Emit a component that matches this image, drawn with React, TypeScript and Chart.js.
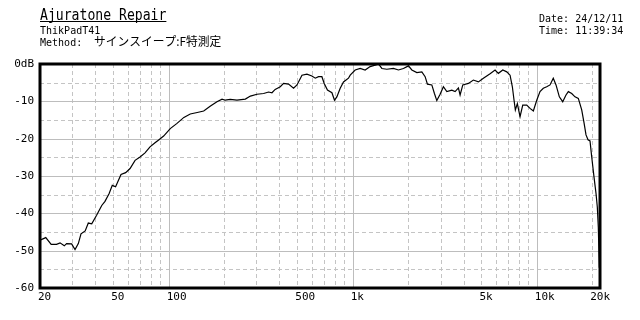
import React, { useEffect, useRef } from "react";
import { Chart, registerables } from "chart.js";

Chart.register(...registerables);

const freqs = [
  20, 21.5, 23.0, 24.6, 25.7, 27.1, 27.9, 29.7, 31.0, 32.3, 33.4, 35.2, 36.6, 38.2, 40.6, 43.3, 45.1, 47.5, 49.4, 51.5,
  55.1, 58.4, 61.7, 65.7, 69.9, 74.4, 79.2, 84.3, 87.9, 93.9, 102, 111, 121, 131, 143, 155, 168, 183, 195, 203,
  216, 235, 261, 278, 302, 328, 349, 364, 379, 404, 421, 448, 477, 498, 530, 564, 600, 626, 652, 680,
  700, 729, 771, 796, 820, 855, 891, 948, 969, 1031, 1098, 1168, 1243, 1324, 1380, 1440, 1532, 1664, 1772, 1886,
  2008, 2095, 2230, 2374, 2474, 2546, 2690, 2779, 2863, 2984, 3109, 3245, 3454, 3600, 3751, 3831, 3963, 4250, 4524, 4816,
  5127, 5575, 5934, 6184, 6535, 6868, 7158, 7367, 7524, 7647, 7841, 8110, 8389, 8818, 9190, 9578, 9994, 10410, 10850, 11320,
  11800, 12290, 12720, 13260, 13830, 14410, 14840, 15480, 16130, 16810, 17540, 18050, 18510, 18980, 19460, 19880, 20460, 20980, 21320, 21590,
  21860,
];
const levels = [
  -47.2, -46.5, -48.3, -48.3, -47.9, -48.7, -48.1, -48.2, -49.7, -48.1, -45.5, -44.7, -42.6, -42.8, -40.5, -37.9, -36.8, -34.7, -32.5, -32.9,
  -29.6, -29.1, -28.0, -25.8, -24.9, -23.8, -22.2, -21.1, -20.4, -19.3, -17.3, -15.9, -14.3, -13.4, -13.0, -12.6, -11.3, -10.1, -9.4, -9.7,
  -9.5, -9.7, -9.4, -8.6, -8.1, -7.9, -7.5, -7.7, -6.8, -6.1, -5.2, -5.4, -6.5, -5.6, -3.0, -2.7, -3.2, -3.8, -3.4, -3.4,
  -5.2, -7.0, -7.7, -9.7, -8.8, -6.5, -4.8, -3.8, -3.0, -1.6, -1.2, -1.6, -0.7, -0.3, 0, -1.2, -1.4, -1.2, -1.6, -1.2,
  -0.5, -1.6, -2.3, -2.1, -3.4, -5.4, -5.6, -7.9, -9.8, -8.1, -6.1, -7.4, -7.0, -7.4, -6.4, -8.3, -5.6, -5.2, -4.3, -4.8,
  -3.8, -2.6, -1.6, -2.5, -1.6, -2.1, -3.0, -6.1, -9.7, -12.3, -10.6, -14.1, -11.0, -11.0, -11.9, -12.6, -9.7, -7.4, -6.5, -6.1,
  -5.6, -3.8, -5.6, -8.8, -10.1, -8.3, -7.4, -7.9, -8.8, -9.2, -12.3, -15.7, -19.0, -20.3, -20.6, -24.9, -30.3, -34.7, -38.3, -43.7,
  -54.6,
];

const xTickValues = [20, 50, 100, 500, 1000, 5000, 10000, 20000];
const xTickLabels = ["20", "50", "100", "500", "1k", "5k", "10k", "20k"];
const yTickValues = [0, -10, -20, -30, -40, -50, -60];
const yTickLabels = ["0dB", "-10", "-20", "-30", "-40", "-50", "-60"];

const xGridMajor = [100, 1000, 10000];
const xGridMinor = [
  30, 40, 50, 60, 70, 80, 90, 200, 300, 400, 500, 600, 700, 800, 900,
  2000, 3000, 4000, 5000, 6000, 7000, 8000, 9000, 20000,
];
const yGridMajor = [-10, -20, -30, -40, -50];
const yGridMinor = [-5, -15, -25, -35, -45, -55];

const titleText = "Ajuratone Repair";
const deviceText = "ThikPadT41";
const methodLabel = "Method:";
const methodText = "サインスイープ:F特測定";
const dateText = "Date: 24/12/11";
const timeText = "Time: 11:39:34";

const MONO = "'DejaVu Sans Mono', 'Liberation Mono', monospace";

function drawScaled(ctx: CanvasRenderingContext2D, text: string, x: number, y: number, font: string, sx: number) {
  ctx.save();
  ctx.font = font;
  ctx.fillStyle = "#000";
  ctx.textBaseline = "alphabetic";
  ctx.textAlign = "left";
  ctx.translate(x, y);
  ctx.scale(sx, 1);
  ctx.fillText(text, 0, 0);
  const w = ctx.measureText(text).width * sx;
  ctx.restore();
  return w;
}

const gridPlugin = {
  id: "customGrid",
  beforeDatasetsDraw(chart: any) {
    const { ctx, chartArea } = chart;
    const xs = chart.scales.x;
    const ys = chart.scales.y;
    ctx.save();
    ctx.lineWidth = 1;
    ctx.strokeStyle = "#c4c4c4";
    ctx.setLineDash([4, 3]);
    for (const v of xGridMinor) {
      const p = Math.round(xs.getPixelForValue(v)) + 0.5;
      ctx.beginPath();
      ctx.moveTo(p, chartArea.top);
      ctx.lineTo(p, chartArea.bottom);
      ctx.stroke();
    }
    for (const v of yGridMinor) {
      const p = Math.round(ys.getPixelForValue(v)) + 0.5;
      ctx.beginPath();
      ctx.moveTo(chartArea.left, p);
      ctx.lineTo(chartArea.right, p);
      ctx.stroke();
    }
    ctx.setLineDash([]);
    ctx.strokeStyle = "#bdbdbd";
    for (const v of xGridMajor) {
      const p = Math.round(xs.getPixelForValue(v)) + 0.5;
      ctx.beginPath();
      ctx.moveTo(p, chartArea.top);
      ctx.lineTo(p, chartArea.bottom);
      ctx.stroke();
    }
    for (const v of yGridMajor) {
      const p = Math.round(ys.getPixelForValue(v)) + 0.5;
      ctx.beginPath();
      ctx.moveTo(chartArea.left, p);
      ctx.lineTo(chartArea.right, p);
      ctx.stroke();
    }
    ctx.restore();
  },
  afterDatasetsDraw(chart: any) {
    const { ctx, chartArea } = chart;
    ctx.save();
    ctx.strokeStyle = "#000";
    ctx.lineWidth = 3;
    ctx.strokeRect(chartArea.left, chartArea.top, chartArea.right - chartArea.left, chartArea.bottom - chartArea.top);
    ctx.restore();
  },
  afterDraw(chart: any) {
    const { ctx } = chart;
    const tw = drawScaled(ctx, titleText, 40, 19.5, `16px ${MONO}`, 0.82);
    ctx.save();
    ctx.strokeStyle = "#000";
    ctx.lineWidth = 1;
    ctx.beginPath();
    ctx.moveTo(40, 21.5);
    ctx.lineTo(40 + tw, 21.5);
    ctx.stroke();
    ctx.restore();
    drawScaled(ctx, deviceText, 40, 33.5, `11px ${MONO}`, 0.91);
    drawScaled(ctx, methodLabel, 40, 45.5, `11px ${MONO}`, 0.91);
    drawScaled(ctx, methodText, 94, 46, `12px 'Noto Sans CJK JP', sans-serif`, 0.98);
    drawScaled(ctx, dateText, 539, 21.5, `11px ${MONO}`, 0.91);
    drawScaled(ctx, timeText, 539, 33.5, `11px ${MONO}`, 0.91);
  },
};

export default function App() {
  const ref = useRef<HTMLCanvasElement | null>(null);
  useEffect(() => {
    if (!ref.current) return;
    const chart = new Chart(ref.current, {
      type: "line",
      data: {
        datasets: [
          {
            data: freqs.map((f, i) => ({ x: f, y: levels[i] })),
            borderColor: "#000",
            borderWidth: 1.2,
            pointRadius: 0,
            tension: 0,
            fill: false,
          },
        ],
      },
      options: {
        animation: false,
        responsive: false,
        devicePixelRatio: 1,
        layout: { padding: { top: 64, right: 40, left: 0, bottom: 0 } },
        plugins: { legend: { display: false }, tooltip: { enabled: false }, title: { display: false } },
        scales: {
          x: {
            type: "logarithmic",
            min: 20,
            max: 22050,
            grid: { display: false, drawTicks: false },
            border: { display: false },
            afterBuildTicks: (scale: any) => {
              scale.ticks = xTickValues.map((v) => ({ value: v }));
            },
            afterFit: (scale: any) => {
              scale.height = 32;
            },
            ticks: {
              autoSkip: false,
              maxRotation: 0,
              minRotation: 0,
              align: "start",
              labelOffset: -2,
              padding: 3,
              color: "#000",
              font: { family: MONO, size: 11 },
              callback: (v: any) => {
                const i = xTickValues.indexOf(Number(v));
                return i >= 0 ? xTickLabels[i] : "";
              },
            },
          },
          y: {
            type: "linear",
            min: -60,
            max: 0,
            grid: { display: false, drawTicks: false },
            border: { display: false },
            afterBuildTicks: (scale: any) => {
              scale.ticks = yTickValues.map((v) => ({ value: v }));
            },
            afterFit: (scale: any) => {
              scale.width = 40;
            },
            ticks: {
              autoSkip: false,
              padding: 6,
              color: "#000",
              font: { family: MONO, size: 11 },
              callback: (v: any) => {
                const i = yTickValues.indexOf(Number(v));
                return i >= 0 ? yTickLabels[i] : "";
              },
            },
          },
        },
      },
      plugins: [gridPlugin],
    } as any);
    return () => chart.destroy();
  }, []);
  return (
    <div style={{ position: "absolute", left: 0, top: 0, width: 640, height: 320, background: "#fff" }}>
      <canvas ref={ref} width={640} height={320} style={{ width: 640, height: 320 }} />
    </div>
  );
}
